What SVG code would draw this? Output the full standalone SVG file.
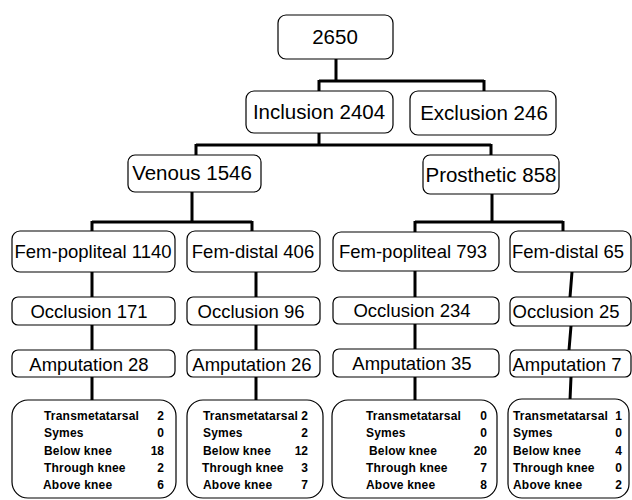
<svg xmlns="http://www.w3.org/2000/svg" width="632" height="500" viewBox="0 0 632 500">
<style>
.box{fill:#fff;stroke:#000;stroke-width:1.2}
.big{font-family:"Liberation Sans",Arial,sans-serif;font-size:20.5px;fill:#000;text-anchor:middle}
.mid{font-family:"Liberation Sans",Arial,sans-serif;font-size:18.5px;fill:#000;text-anchor:middle}
.sm{font-family:"Liberation Sans",Arial,sans-serif;font-size:12px;font-weight:bold;fill:#000;letter-spacing:0.2px}
.num{font-family:"Liberation Sans",Arial,sans-serif;font-size:12px;font-weight:bold;fill:#000;text-anchor:end}
.con{fill:none;stroke:#000;stroke-width:3}
</style>
<rect width="632" height="500" fill="#fff"/>
<g id="connectors">
<path class="con" d="M336 59V81M319 81H484M319 80V91M484 80V91"/>
<path class="con" d="M319 133V145M196 145H491M196 144V155M491 144V155"/>
<path class="con" d="M192 192V222M92 222H252M92 221V231M252 221V231"/>
<path class="con" d="M492 194V222M415 222H563M415 221V232M563 221V231"/>
<path class="con" d="M92 272V297M92 325V350M92 377V400"/>
<path class="con" d="M256 272V297M256 325V350M256 377V400"/>
<path class="con" d="M415 271V297M415 324V349M415 377V400"/>
<path class="con" d="M572 272L570 297M571 326L569 350M571 377L570 400"/>
</g>
<g id="n2650"><rect class="box" x="278" y="15" width="115" height="44" rx="8"/><text class="big" x="335" y="44">2650</text></g>
<g id="inclusion"><rect class="box" x="246" y="91" width="147" height="42" rx="8"/><text class="big" x="319" y="119">Inclusion 2404</text></g>
<g id="exclusion"><rect class="box" x="410" y="91" width="146" height="44" rx="8"/><text class="big" x="484" y="120">Exclusion 246</text></g>
<g id="venous"><rect class="box" x="128" y="155" width="133" height="37" rx="7"/><text class="big" x="192" y="180">Venous 1546</text></g>
<g id="prosthetic"><rect class="box" x="423" y="155" width="136" height="39" rx="7"/><text class="big" x="491" y="182">Prosthetic 858</text></g>
<g id="fp1140"><rect class="box" x="12" y="231" width="163" height="41" rx="8"/><text class="mid" x="93" y="258">Fem-popliteal 1140</text></g>
<g id="fd406"><rect class="box" x="187" y="231" width="133" height="41" rx="8"/><text class="mid" x="253" y="258">Fem-distal 406</text></g>
<g id="fp793"><rect class="box" x="333" y="232" width="166" height="39" rx="8"/><text class="mid" x="413" y="258">Fem-popliteal 793</text></g>
<g id="fd65"><rect class="box" x="510" y="231" width="121" height="41" rx="8"/><text class="mid" x="568" y="258">Fem-distal 65</text></g>
<g id="occ171"><rect class="box" x="12" y="297" width="163" height="28" rx="6"/><text class="mid" x="89" y="318">Occlusion 171</text></g>
<g id="occ96"><rect class="box" x="187" y="297" width="133" height="28" rx="6"/><text class="mid" x="251" y="318">Occlusion 96</text></g>
<g id="occ234"><rect class="box" x="333" y="297" width="166" height="27" rx="6"/><text class="mid" x="412" y="317">Occlusion 234</text></g>
<g id="occ25"><rect class="box" x="510" y="297" width="121" height="29" rx="6"/><text class="mid" x="566" y="318">Occlusion 25</text></g>
<g id="amp28"><rect class="box" x="12" y="350" width="163" height="27" rx="6"/><text class="mid" x="89" y="371">Amputation 28</text></g>
<g id="amp26"><rect class="box" x="187" y="350" width="133" height="27" rx="6"/><text class="mid" x="252" y="371">Amputation 26</text></g>
<g id="amp35"><rect class="box" x="333" y="349" width="166" height="28" rx="6"/><text class="mid" x="412" y="370">Amputation 35</text></g>
<g id="amp7"><rect class="box" x="510" y="350" width="121" height="27" rx="6"/><text class="mid" x="567" y="371">Amputation 7</text></g>
<g id="detail1"><rect class="box" x="12" y="400" width="164" height="98" rx="16"/>
<text class="sm" x="44" y="420">Transmetatarsal</text><text class="num" x="164" y="420">2</text>
<text class="sm" x="44" y="437">Symes</text><text class="num" x="164" y="437">0</text>
<text class="sm" x="44" y="455">Below knee</text><text class="num" x="164" y="455">18</text>
<text class="sm" x="44" y="472">Through knee</text><text class="num" x="164" y="472">2</text>
<text class="sm" x="43" y="489">Above knee</text><text class="num" x="164" y="489">6</text></g>
<g id="detail2"><rect class="box" x="187" y="400" width="136" height="98" rx="16"/>
<text class="sm" x="203" y="420">Transmetatarsal</text><text class="num" x="308" y="420">2</text>
<text class="sm" x="203" y="437">Symes</text><text class="num" x="308" y="437">2</text>
<text class="sm" x="203" y="455">Below knee</text><text class="num" x="308" y="455">12</text>
<text class="sm" x="202" y="472">Through knee</text><text class="num" x="308" y="472">3</text>
<text class="sm" x="203" y="489">Above knee</text><text class="num" x="308" y="489">7</text></g>
<g id="detail3"><rect class="box" x="332" y="400" width="165" height="98" rx="16"/>
<text class="sm" x="366" y="420">Transmetatarsal</text><text class="num" x="487" y="420">0</text>
<text class="sm" x="366" y="437">Symes</text><text class="num" x="487" y="437">0</text>
<text class="sm" x="369" y="455">Below knee</text><text class="num" x="487" y="455">20</text>
<text class="sm" x="366" y="472">Through knee</text><text class="num" x="487" y="472">7</text>
<text class="sm" x="366" y="489">Above knee</text><text class="num" x="487" y="489">8</text></g>
<g id="detail4"><rect class="box" x="508" y="399" width="121" height="99" rx="14"/>
<text class="sm" x="513" y="420">Transmetatarsal</text><text class="num" x="622" y="420">1</text>
<text class="sm" x="513" y="437">Symes</text><text class="num" x="622" y="437">0</text>
<text class="sm" x="513" y="455">Below knee</text><text class="num" x="622" y="455">4</text>
<text class="sm" x="513" y="472">Through knee</text><text class="num" x="622" y="472">0</text>
<text class="sm" x="513" y="489">Above knee</text><text class="num" x="622" y="489">2</text></g>
</svg>
